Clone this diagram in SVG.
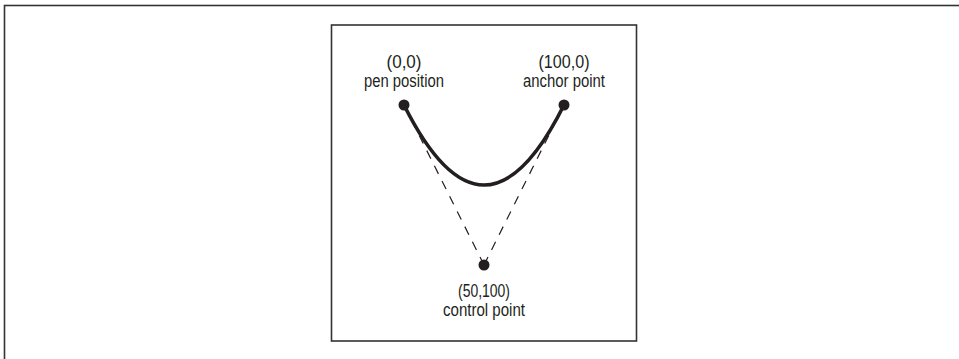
<svg xmlns="http://www.w3.org/2000/svg" width="959" height="359" viewBox="0 0 959 359">
<style>
.lbl{font-family:"Liberation Sans Narrow","Liberation Sans",Arial,sans-serif;font-size:17.5px;fill:#231f20;text-anchor:middle}
.dot{fill:#231f20}
.frame{fill:none;stroke:#333;stroke-width:1.6}
.dash{fill:none;stroke:#231f20;stroke-width:1.2;stroke-dasharray:9,8}
</style>
<rect width="959" height="359" fill="#fff"/>
<rect class="frame" x="4.5" y="5.5" width="970" height="370"/>
<rect class="frame" x="331.5" y="25" width="305" height="316"/>
<g id="connectors">
<path id="tangent-left" class="dash" d="M404,105 L484,265"/>
<path id="tangent-right" class="dash" d="M564,105 L484,265"/>
<path id="curve" d="M404,105 Q484,265 564,105" fill="none" stroke="#231f20" stroke-width="3.6" stroke-linecap="round"/>
</g>
<g id="pen">
<circle class="dot" cx="404" cy="105" r="5.5"/>
<text class="lbl" x="404" y="68" textLength="35" lengthAdjust="spacingAndGlyphs">(0,0)</text>
<text class="lbl" x="404" y="87" textLength="80" lengthAdjust="spacingAndGlyphs">pen position</text>
</g>
<g id="anchor">
<circle class="dot" cx="564" cy="105" r="5.5"/>
<text class="lbl" x="564" y="68" textLength="51" lengthAdjust="spacingAndGlyphs">(100,0)</text>
<text class="lbl" x="564" y="87" textLength="82" lengthAdjust="spacingAndGlyphs">anchor point</text>
</g>
<g id="control">
<circle class="dot" cx="484" cy="265" r="5.5"/>
<text class="lbl" x="484" y="297" textLength="52" lengthAdjust="spacingAndGlyphs">(50,100)</text>
<text class="lbl" x="484" y="316" textLength="82" lengthAdjust="spacingAndGlyphs">control point</text>
</g>
</svg>
